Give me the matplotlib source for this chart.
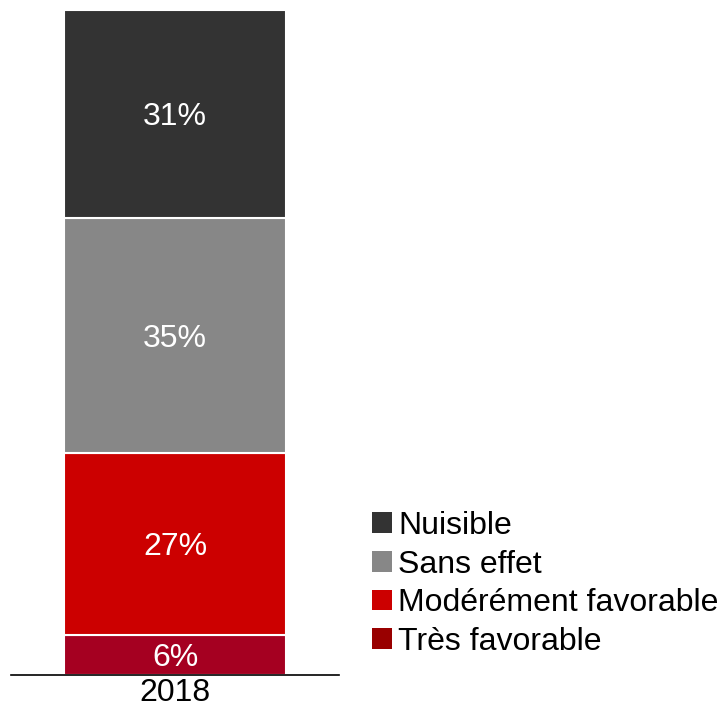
import matplotlib
matplotlib.use("Agg")
import matplotlib.pyplot as plt
from matplotlib.patches import Patch
from matplotlib.transforms import offset_copy

plt.rcParams['font.family'] = ['Liberation Sans', 'DejaVu Sans']

years = ["2018"]
categories = ["Très favorable", "Modérément favorable", "Sans effet", "Nuisible"]
values = [6, 27, 35, 31]
bar_colors = ["#a50021", "#cc0000", "#878787", "#333333"]
legend_colors = ["#990000", "#cc0000", "#878787", "#333333"]

fig = plt.figure(figsize=(7.2, 7.11), dpi=100)
ax = fig.add_axes([11/720, 1-675/711, 328/720, 665/711])

trans = offset_copy(ax.transData, fig=fig, x=0, y=-3, units='dots')
bottom = 0
for cat, v, c in zip(categories, values, bar_colors):
    ax.bar(0, v, bottom=bottom, width=0.674, color=c, edgecolor="white", linewidth=1.5)
    ax.text(0, bottom + v/2, f"{v}%", ha="center", va="center", color="white",
            fontsize=23, transform=trans)
    bottom += v

ax.set_xlim(-0.5, 0.5)
ax.set_ylim(0, sum(values))
ax.set_xticks([0])
ax.set_xticklabels(years, fontsize=23)
ax.tick_params(axis='x', length=0, pad=2.5)
ax.set_yticks([])
for s in ["top", "right", "left"]:
    ax.spines[s].set_visible(False)
ax.spines["bottom"].set_linewidth(1.2)

handles = [Patch(facecolor=c, label=l) for l, c in zip(categories, legend_colors)][::-1]
fig.legend(handles=handles, loc="upper left", bbox_to_anchor=(372/720, 1-511/711),
           frameon=False, fontsize=23, handlelength=0.63, handleheight=0.63,
           handletextpad=0.19, labelspacing=0.27, borderpad=0, borderaxespad=0)

fig.savefig("out.png", dpi=100)
